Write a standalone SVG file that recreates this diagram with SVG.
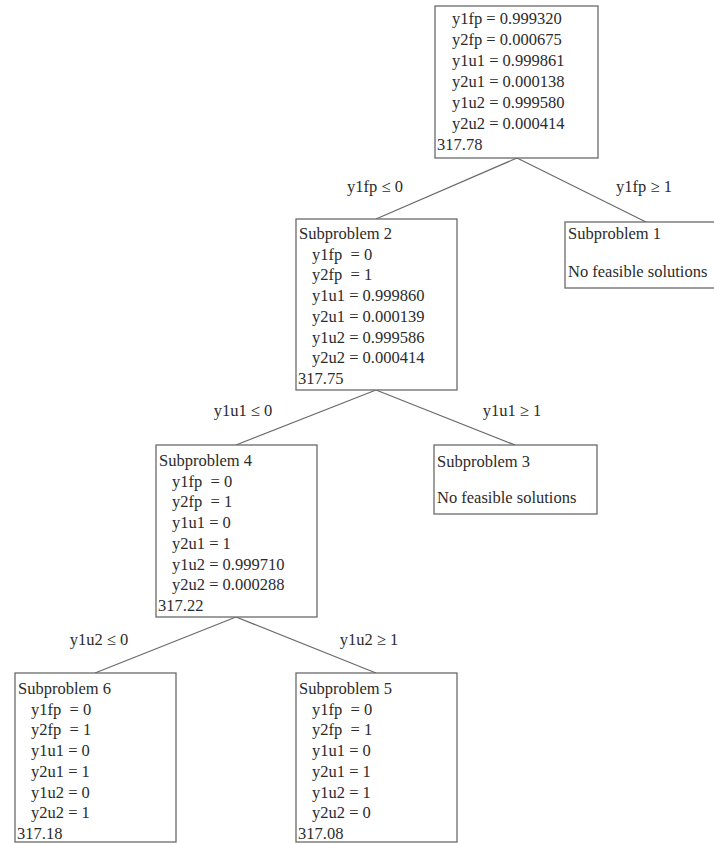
<svg xmlns="http://www.w3.org/2000/svg" width="714" height="843" viewBox="0 0 714 843">
<style>
  text { font-family: "Liberation Serif", "Times New Roman", serif; font-size: 16.5px; fill: #2b2b2b; }
  .box { fill: #ffffff; stroke: #6a6a6a; stroke-width: 1.3; }
  .edge { stroke: #6a6a6a; stroke-width: 1.2; fill: none; }
  .lbl { text-anchor: middle; }
</style>
<rect width="714" height="843" fill="#ffffff"/>
<g id="connectors">
  <line class="edge" x1="517" y1="158" x2="376" y2="219"/>
  <line class="edge" x1="517" y1="158" x2="646" y2="222"/>
  <line class="edge" x1="376" y1="390" x2="236" y2="445"/>
  <line class="edge" x1="376" y1="390" x2="515" y2="445"/>
  <line class="edge" x1="236" y1="617" x2="95" y2="673"/>
  <line class="edge" x1="236" y1="617" x2="376" y2="673"/>
  <text class="lbl" x="375" y="192">y1fp ≤ 0</text>
  <text class="lbl" x="644" y="192">y1fp ≥ 1</text>
  <text class="lbl" x="243" y="416">y1u1 ≤ 0</text>
  <text class="lbl" x="512" y="416">y1u1 ≥ 1</text>
  <text class="lbl" x="99" y="645">y1u2 ≤ 0</text>
  <text class="lbl" x="369" y="645">y1u2 ≥ 1</text>
</g>
<g id="root">
  <rect class="box" x="435" y="6" width="163" height="152"/>
  <text x="452" y="24">y1fp = 0.999320</text>
  <text x="452" y="45">y2fp = 0.000675</text>
  <text x="452" y="66">y1u1 = 0.999861</text>
  <text x="452" y="87">y2u1 = 0.000138</text>
  <text x="452" y="108">y1u2 = 0.999580</text>
  <text x="452" y="129">y2u2 = 0.000414</text>
  <text x="437" y="150">317.78</text>
</g>
<g id="subproblem2">
  <rect class="box" x="296" y="219" width="161" height="171"/>
  <text x="299" y="239">Subproblem 2</text>
  <text x="312" y="259.7" xml:space="preserve">y1fp  = 0</text>
  <text x="312" y="280.4" xml:space="preserve">y2fp  = 1</text>
  <text x="312" y="301.1">y1u1 = 0.999860</text>
  <text x="312" y="321.8">y2u1 = 0.000139</text>
  <text x="312" y="342.5">y1u2 = 0.999586</text>
  <text x="312" y="363.2">y2u2 = 0.000414</text>
  <text x="298" y="383.9">317.75</text>
</g>
<g id="subproblem1">
  <rect class="box" x="565" y="222" width="163" height="66"/>
  <text x="568" y="239">Subproblem 1</text>
  <text x="568" y="277">No feasible solutions</text>
</g>
<g id="subproblem4">
  <rect class="box" x="156" y="445" width="161" height="172"/>
  <text x="159" y="466">Subproblem 4</text>
  <text x="172" y="486.7" xml:space="preserve">y1fp  = 0</text>
  <text x="172" y="507.4" xml:space="preserve">y2fp  = 1</text>
  <text x="172" y="528.1">y1u1 = 0</text>
  <text x="172" y="548.8">y2u1 = 1</text>
  <text x="172" y="569.5">y1u2 = 0.999710</text>
  <text x="172" y="590.2">y2u2 = 0.000288</text>
  <text x="158" y="610.9">317.22</text>
</g>
<g id="subproblem3">
  <rect class="box" x="434" y="445" width="163" height="69"/>
  <text x="437" y="467">Subproblem 3</text>
  <text x="437" y="503">No feasible solutions</text>
</g>
<g id="subproblem6">
  <rect class="box" x="15" y="673" width="161" height="169"/>
  <text x="18" y="694">Subproblem 6</text>
  <text x="31" y="714.7" xml:space="preserve">y1fp  = 0</text>
  <text x="31" y="735.4" xml:space="preserve">y2fp  = 1</text>
  <text x="31" y="756.1">y1u1 = 0</text>
  <text x="31" y="776.8">y2u1 = 1</text>
  <text x="31" y="797.5">y1u2 = 0</text>
  <text x="31" y="818.2">y2u2 = 1</text>
  <text x="17" y="838.9">317.18</text>
</g>
<g id="subproblem5">
  <rect class="box" x="296" y="673" width="161" height="169"/>
  <text x="299" y="694">Subproblem 5</text>
  <text x="312" y="714.7" xml:space="preserve">y1fp  = 0</text>
  <text x="312" y="735.4" xml:space="preserve">y2fp  = 1</text>
  <text x="312" y="756.1">y1u1 = 0</text>
  <text x="312" y="776.8">y2u1 = 1</text>
  <text x="312" y="797.5">y1u2 = 1</text>
  <text x="312" y="818.2">y2u2 = 0</text>
  <text x="298" y="838.9">317.08</text>
</g>
</svg>
